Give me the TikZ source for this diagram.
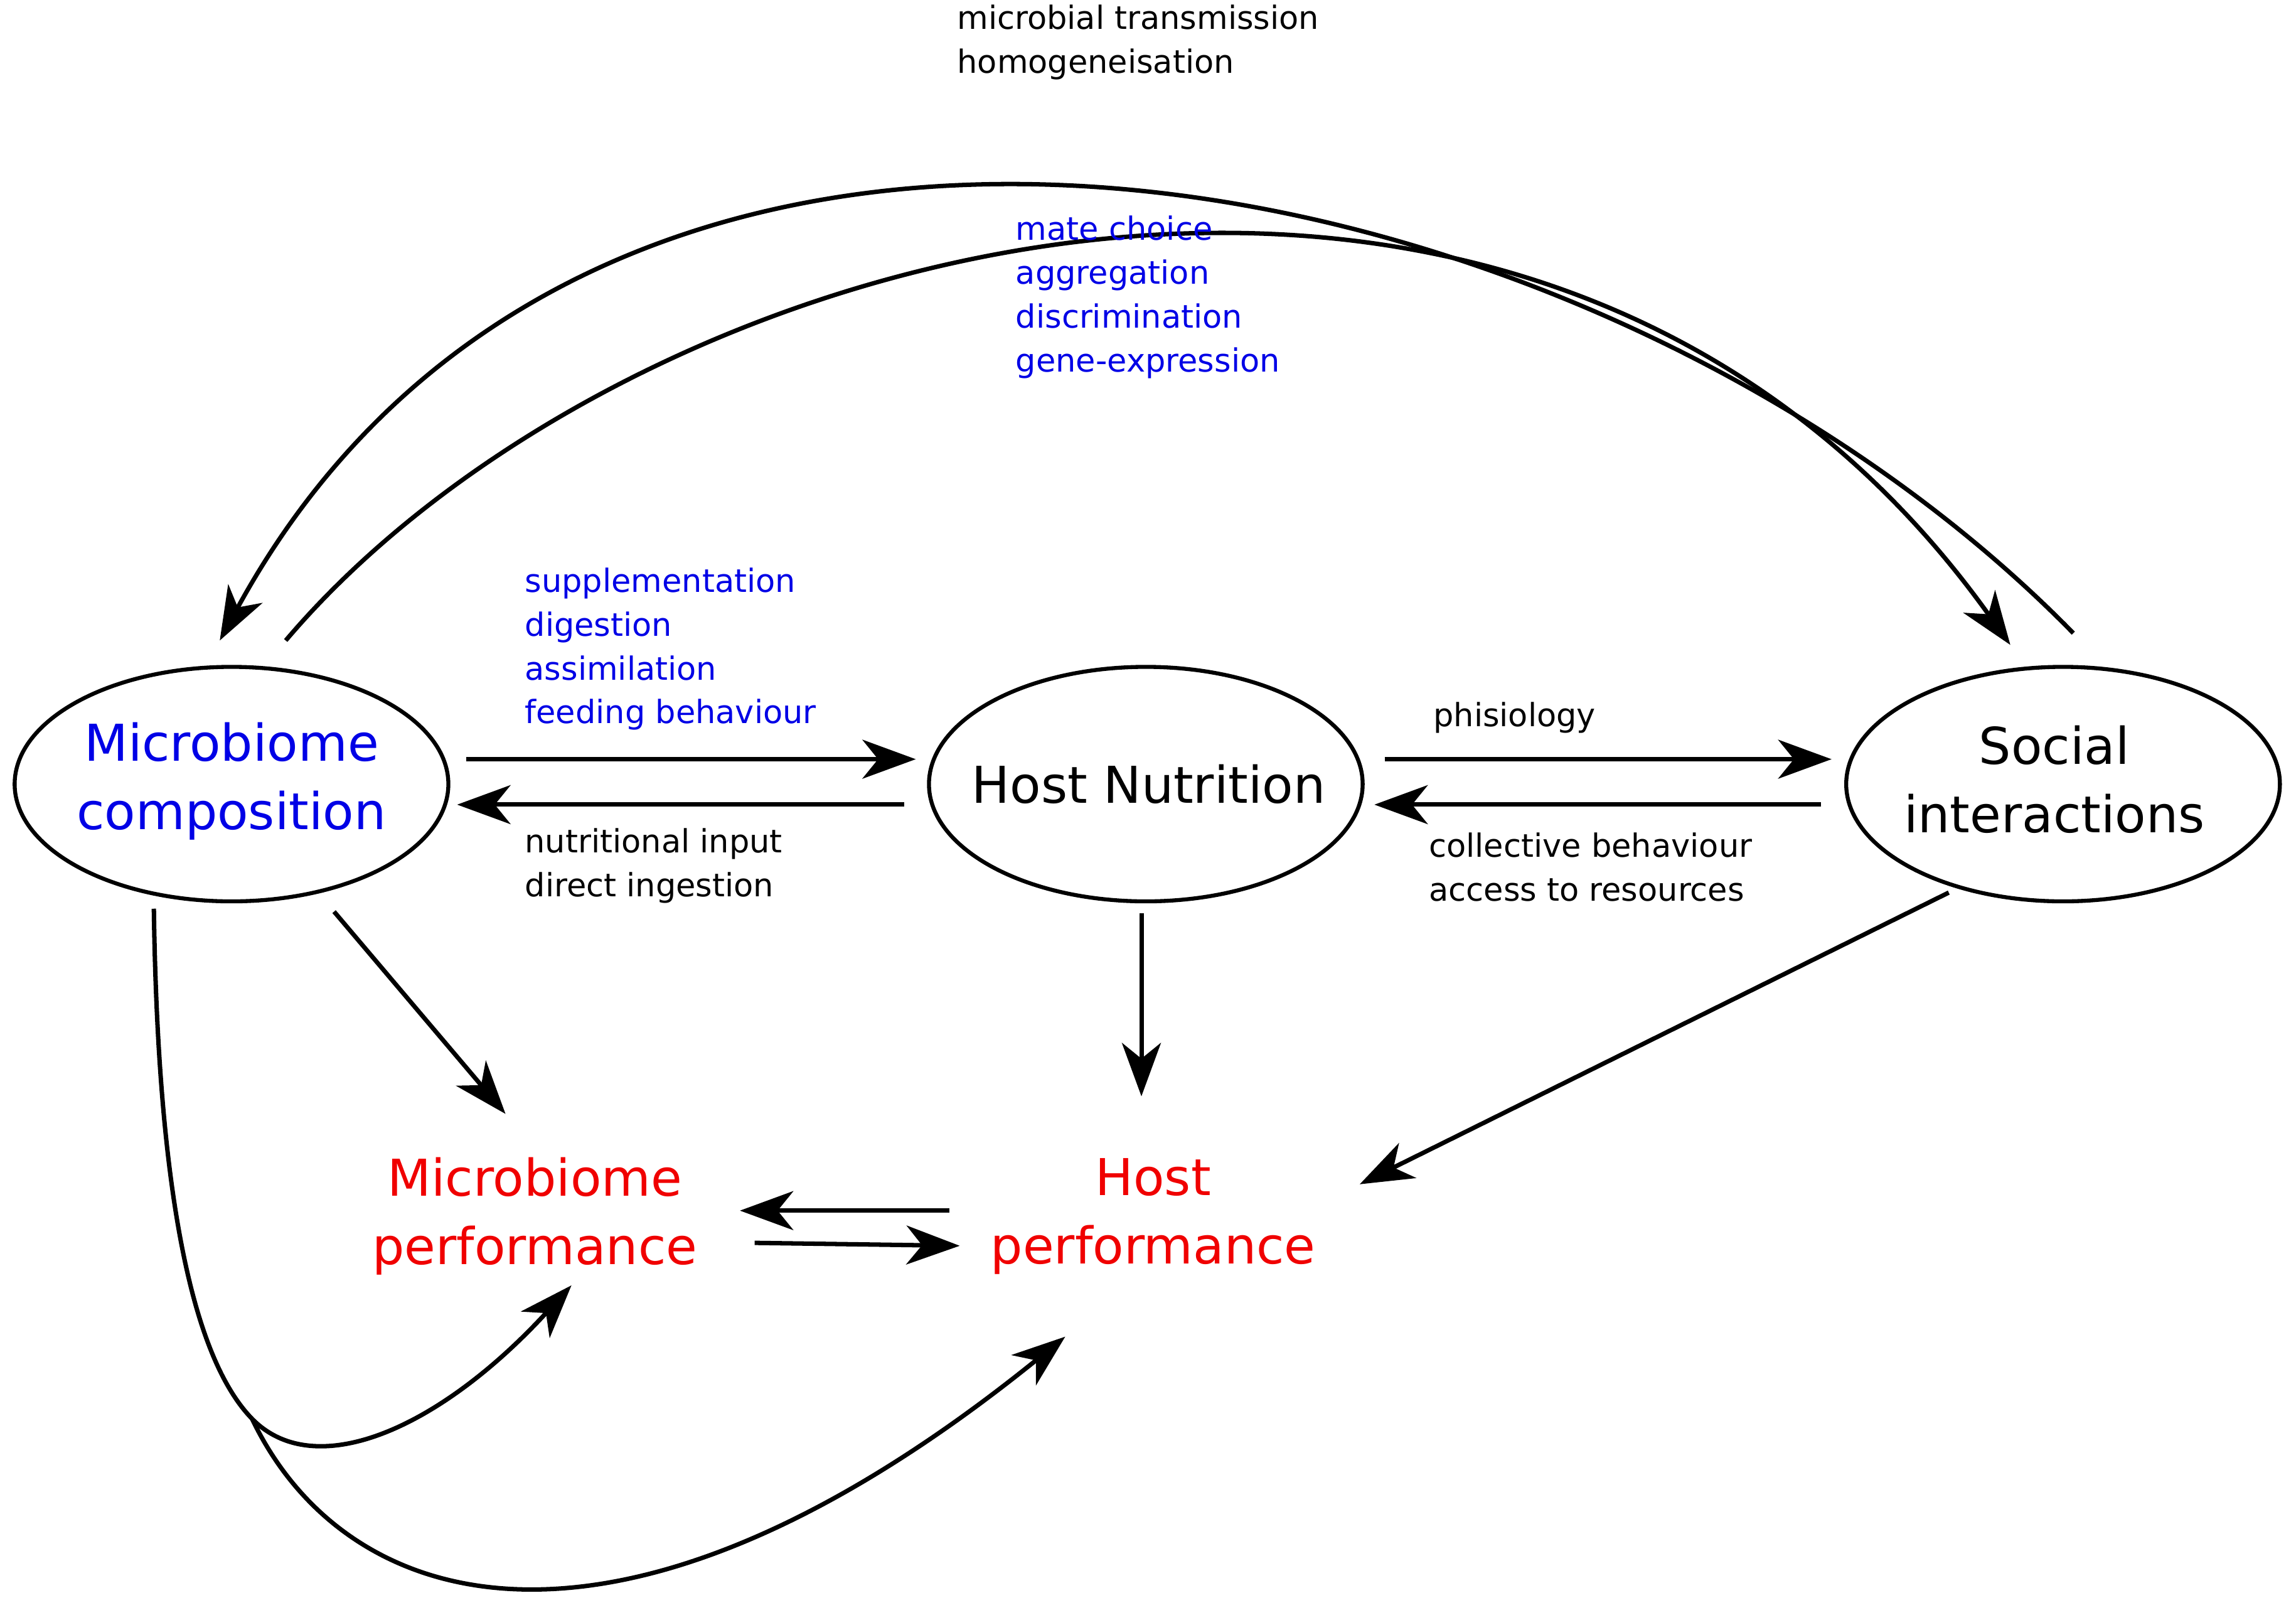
\documentclass[tikz,border=0pt]{standalone}
\usepackage{fontspec}
\setmainfont{DejaVu Sans}
\usetikzlibrary{arrows.meta}
\begin{document}
\begin{tikzpicture}[x=0.02335cm,y=-0.02335cm,
  ell/.style={draw,line width=1.8pt,ellipse,minimum width=296\pgflinewidth,inner sep=0},
  con/.style={line width=2pt,-{Stealth[length=0.85cm,width=0.62cm,inset=0.25cm]}},
  big/.style={font=\fontsize{23}{31}\selectfont,align=center},
  lab/.style={font=\fontsize{14.5}{19.9}\selectfont,align=left,anchor=north west,inner sep=0}]
\useasboundingbox (0,0) rectangle (1567,1105);
\definecolor{myblue}{RGB}{0,0,230}
\definecolor{myred}{RGB}{240,0,0}
\draw[line width=1.8pt] (158,535) ellipse [x radius=148,y radius=80];
\draw[line width=1.8pt] (782,535) ellipse [x radius=148,y radius=80];
\draw[line width=1.8pt] (1408,535) ellipse [x radius=148,y radius=80];
\node[big,text=myblue] (mc) at (158,533) {Microbiome\\composition};
\node[big] (hn) at (784,535) {Host Nutrition};
\node[big] (si) at (1402,532) {Social\\interactions};
\node[big,text=myred] (mp) at (365,830) {Microbiome\\performance};
\node[big,text=myred] (hp) at (787,830) {Host\\performance};
\coordinate (a1) at (318,518); \coordinate (a2) at (625,518);
\coordinate (b1) at (617,549); \coordinate (b2) at (312,549);
\coordinate (c1) at (945,518); \coordinate (c2) at (1250,518);
\coordinate (d1) at (1243,549); \coordinate (d2) at (938,549);
\draw[con] (a1) -- (a2);
\draw[con] (b1) -- (b2);
\draw[con] (c1) -- (c2);
\draw[con] (d1) -- (d2);
\coordinate (t1) at (195,437); \coordinate (t2) at (1372,440);
\coordinate (u1) at (1415,432); \coordinate (u2) at (150,437);
\draw[con] (t1) .. controls (430,160) and (1050,-10) .. (t2);
\draw[con] (u1) .. controls (1090,100) and (410,-40) .. (u2);
\coordinate (e1) at (228,622); \coordinate (e2) at (345,760);
\draw[con] (e1) -- (e2);
\coordinate (f1) at (779,623); \coordinate (f2) at (779,748);
\draw[con] (f1) -- (f2);
\coordinate (g1) at (1330,609); \coordinate (g2) at (928,808);
\draw[con] (g1) -- (g2);
\coordinate (h1) at (648,826); \coordinate (h2) at (505,826);
\draw[con] (h1) -- (h2);
\coordinate (k1) at (515,848); \coordinate (k2) at (655,850);
\draw[con] (k1) -- (k2);
\coordinate (m0) at (105,620); \coordinate (m1) at (172,968);
\coordinate (m2) at (390,877); \coordinate (m3) at (727,912);
\draw[line width=2pt] (m0) .. controls (108,830) and (135,930) .. (m1);
\draw[con] (m1) .. controls (215,1012) and (300,975) .. (m2);
\draw[con] (m1) .. controls (235,1100) and (420,1160) .. (m3);
\node[lab] (l1) at (653,3) {microbial transmission\\homogeneisation};
\node[lab,text=myblue] (l2) at (693,147) {mate choice\\aggregation\\discrimination\\gene-expression};
\node[lab,text=myblue] (l3) at (358,387) {supplementation\\digestion\\assimilation\\feeding behaviour};
\node[lab] (l4) at (358,565) {nutritional input\\direct ingestion};
\node[lab] (l5) at (978,479) {phisiology};
\node[lab] (l6) at (975,568) {collective behaviour\\access to resources};
\end{tikzpicture}
\end{document}
